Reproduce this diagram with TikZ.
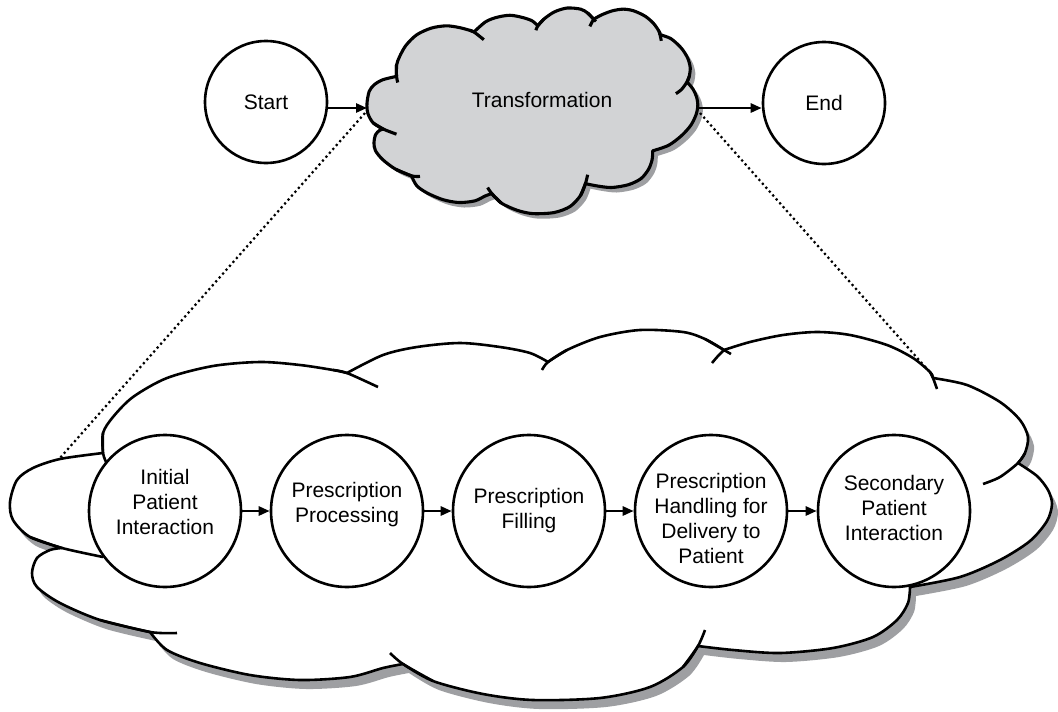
\documentclass[tikz,border=0pt]{standalone}
\usepackage{fontspec}
\setmainfont{Liberation Sans}
\usetikzlibrary{arrows.meta}
\definecolor{tfgray}{RGB}{210,211,213}
\definecolor{shadowgray}{RGB}{158,159,162}
% outline of the cloud, in pixels of the big one
\def\cloudpath{plot[smooth] coordinates {(62,548) (30,537) (13,520) (10,502) (17,480) (33,468) (60,459) (103,453)}
 -- plot[smooth] coordinates {(103,453) (103,433) (113,417) (133,397) (167,378) (213,366) (260,362) (300,365) (333,370) (347,373)}
 -- plot[smooth] coordinates {(347,373) (383,355) (417,347) (460,343) (500,347) (530,353) (548,362)}
 -- plot[smooth] coordinates {(548,362) (567,350) (600,337) (640,330) (683,332) (705,339) (724,350)}
 -- plot[smooth] coordinates {(724,350) (750,342) (783,335) (817,332) (850,335) (887,345) (913,358) (930,372) (933,378)}
 -- plot[smooth] coordinates {(933,378) (967,385) (1000,402) (1020,420) (1028,437) (1025,453) (1018,463)}
 -- plot[smooth] coordinates {(1018,463) (1037,476) (1048,490) (1052,504) (1047,521) (1030,541) (1000,560) (960,577) (910,587)}
 -- plot[smooth] coordinates {(910,587) (908,603) (897,620) (873,637) (833,648) (780,653) (733,650) (698,646)}
 -- plot[smooth] coordinates {(698,646) (683,667) (650,687) (600,698) (533,700) (483,694) (433,681) (403,664)}
 -- plot[smooth] coordinates {(403,664) (383,668) (350,677) (300,680) (250,675) (200,663) (167,650) (150,632)}
 -- plot[smooth] coordinates {(150,632) (100,620) (60,603) (37,587) (32,573) (37,558) (50,550) (62,548)} -- cycle}
% the short inner arcs
\def\cloudhints{plot[smooth] coordinates {(103,433) (103,453) (107,464)}
 plot[smooth] coordinates {(333,370) (347,373) (378,387)}
 plot[smooth] coordinates {(542,370) (548,362) (567,350)}
 plot[smooth] coordinates {(705,339) (724,350) (731,354)}
 plot[smooth] coordinates {(712,363) (718,356) (724,350)}
 plot[smooth] coordinates {(930,372) (933,378) (937,389)}
 plot[smooth] coordinates {(1025,453) (1018,463) (1000,477) (983,484)}
 plot[smooth] coordinates {(705,630) (698,646) (683,667)}
 plot[smooth] coordinates {(433,681) (403,664) (390,653)}
 plot[smooth] coordinates {(100,620) (150,632) (177,633)}
 plot[smooth] coordinates {(30,537) (62,548) (103,557)}}
\newcommand{\cloudshape}[3]{% fill, shadow x, shadow y
 \fill[shadowgray,shift={(#2,#3)}] \cloudpath;
 \filldraw[fill=#1,cloudline] \cloudpath;
 \draw[cloudline] \cloudhints;}

\begin{document}
\begin{tikzpicture}[x=1pt,y=-1pt,line join=round,
  font=\fontsize{21}{25}\selectfont,
  >={Triangle[length=11pt,width=9pt]},
  cloudline/.style={line width=2.6pt},
  circ/.style={circle,draw,line width=2.6pt,fill=white,inner sep=0pt,minimum size=152pt,align=center},
  endcirc/.style={circle,draw,line width=2.6pt,fill=white,inner sep=0pt,minimum size=122pt},
  arr/.style={->,line width=2.6pt},
  link/.style={line width=2.2pt,dash pattern=on 2.2pt off 3pt}]
\useasboundingbox (0,0) rectangle (1058,712);
% big cloud
\cloudshape{white}{6}{9}
% small cloud
\begin{scope}[shift={(363.8,-175.3)},xscale=0.3175,yscale=0.5556,cloudline/.append style={line width=3.1pt}]
 \cloudshape{tfgray}{16}{9}
\end{scope}
\node (transf) at (542,100) {Transformation};
\coordinate (tfwest) at (367,108);
\coordinate (tfeast) at (698,108);
\coordinate (tfsw) at (365,113);
\coordinate (tfse) at (700,113);
\coordinate (bigwest) at (60,458);
\coordinate (bigeast) at (935,378);

\node[endcirc] (start) at (266,102) {Start};
\node[endcirc] (end) at (824,103) {End};
\draw[arr] (start.east |- tfwest) -- (tfwest);
\draw[arr] (tfeast) -- (tfeast -| end.west);
\draw[link] (tfsw) -- (bigwest);
\draw[link] (tfse) -- (bigeast);

\node[circ] (init) at (165,511) {Initial\\Patient\\Interaction\\[-7pt]};
\node[circ] (proc) at (347,511) {Prescription\\Processing\\[-7pt]};
\node[circ] (pfill) at (529,511) {Prescription\\Filling};
\node[circ] (phand) at (711,511) {Prescription\\Handling for\\Delivery to\\Patient\\[-39pt]};
\node[circ] (second) at (894,511) {Secondary\\Patient\\Interaction\\[-19pt]};
\draw[arr] (init) -- (proc);
\draw[arr] (proc) -- (pfill);
\draw[arr] (pfill) -- (phand);
\draw[arr] (phand) -- (second);
\end{tikzpicture}
\end{document}
